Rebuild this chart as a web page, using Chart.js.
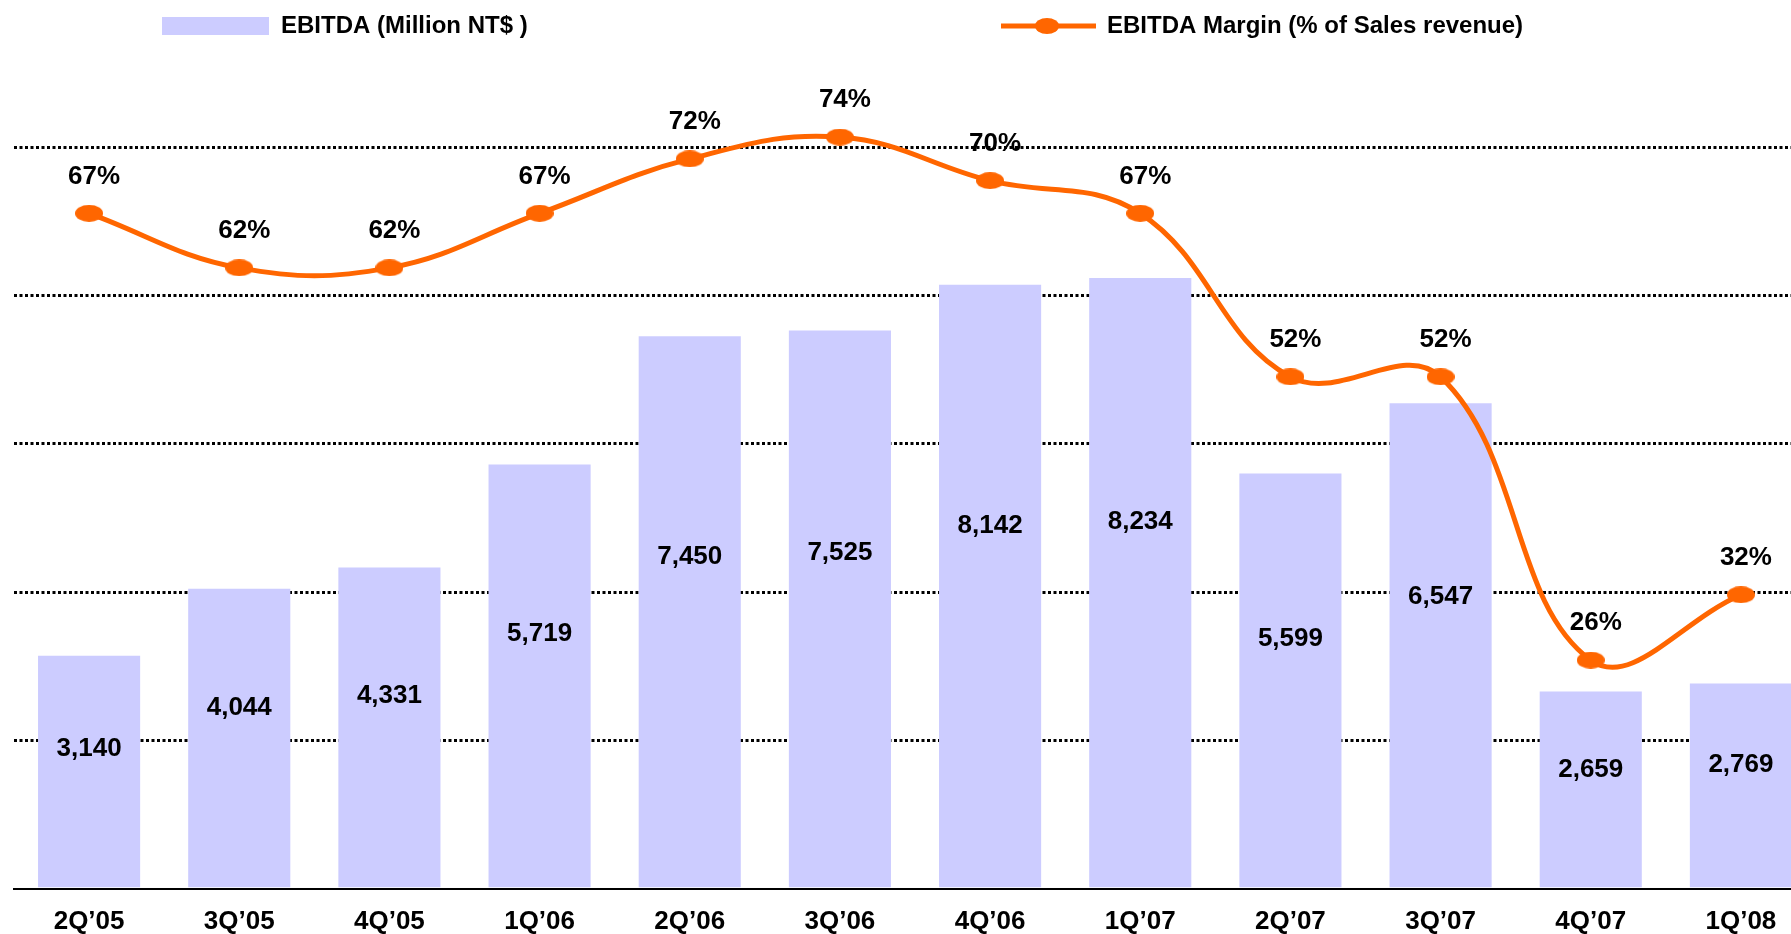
<!DOCTYPE html>
<html>
<head>
<meta charset="utf-8">
<script src="https://cdn.jsdelivr.net/npm/chart.js@4.4.1/dist/chart.umd.min.js"></script>
<style>
  html, body { margin: 0; padding: 0; background: #fff; overflow: hidden; }
  /* the last bar runs off the right edge in the original, so the canvas is a bit bigger than the window */
  #wrap { position: relative; width: 1830px; height: 954px; }
</style>
</head>
<body>
<div id="wrap"><canvas id="ebitdaChart"></canvas></div>
<script>
// ---- data ----
const quarters = ["2Q\u201905", "3Q\u201905", "4Q\u201905", "1Q\u201906", "2Q\u201906", "3Q\u201906",
                  "4Q\u201906", "1Q\u201907", "2Q\u201907", "3Q\u201907", "4Q\u201907", "1Q\u201908"];
const ebitda = [3140, 4044, 4331, 5719, 7450, 7525, 8142, 8234, 5599, 6547, 2659, 2769];
const margin = [67, 62, 62, 67, 72, 74, 70, 67, 52, 52, 26, 32];
const seriesNames = ["EBITDA (Million NT$ )", "EBITDA Margin (% of Sales revenue)"];
const ebitdaAxis = [0, 10000, 2000];   // min, max, grid step
const marginAxis = [5.02, 73.09];      // min, max (hidden axis)

const BAR_COLOR = "#CCCCFF";
const LINE_COLOR = "#FF6600";
const FONT = "'Liberation Sans', Arial, sans-serif";

// orange oval used as point marker
function ovalMarker(w, h) {
    const c = document.createElement("canvas");
    c.width = w; c.height = h;
    const g = c.getContext("2d");
    g.fillStyle = LINE_COLOR;
    g.beginPath();
    g.ellipse(w / 2, h / 2, w / 2, h / 2, 0, 0, Math.PI * 2);
    g.fill();
    return c;
}
const marker = ovalMarker(28, 17);
const legendMarker = ovalMarker(24, 16);

// value labels on bars and points
const valueLabels = {
    id: "valueLabels",
    afterDatasetsDraw(chart) {
        const ctx = chart.ctx;
        ctx.save();
        ctx.fillStyle = "#000";
        ctx.font = "bold 26px " + FONT;
        ctx.textAlign = "center";
        ctx.textBaseline = "middle";

        chart.getDatasetMeta(1).data.forEach((bar, i) => {
            const y = bar.base - (bar.base - bar.y) * 0.6;
            ctx.fillText(ebitda[i].toLocaleString("en-US"), bar.x, y);
        });

        chart.getDatasetMeta(0).data.forEach((pt, i) => {
            ctx.fillText(margin[i] + "%", pt.x + 5, pt.y - 37);
        });
        ctx.restore();
    }
};

// legend across the top
const topLegend = {
    id: "topLegend",
    afterDraw(chart) {
        const ctx = chart.ctx;
        ctx.save();
        ctx.font = "bold 24px " + FONT;
        ctx.textBaseline = "middle";
        ctx.textAlign = "left";

        ctx.fillStyle = BAR_COLOR;
        ctx.fillRect(162, 17, 107, 18);
        ctx.fillStyle = "#000";
        ctx.fillText(seriesNames[0], 281, 26);

        ctx.strokeStyle = LINE_COLOR;
        ctx.lineWidth = 5;
        ctx.beginPath();
        ctx.moveTo(1001, 26);
        ctx.lineTo(1096, 26);
        ctx.stroke();
        ctx.drawImage(legendMarker, 1047 - 12, 26 - 8);
        ctx.fillText(seriesNames[1], 1107, 26);
        ctx.restore();
    }
};

new Chart(document.getElementById("ebitdaChart"), {
    data: {
        labels: quarters,
        datasets: [
            {
                type: "line",
                label: seriesNames[1],
                data: margin,
                yAxisID: "y1",
                borderColor: LINE_COLOR,
                borderWidth: 5,
                tension: 0.4,
                pointStyle: marker,
                pointRadius: 9,
                clip: false,
                order: 1
            },
            {
                type: "bar",
                label: seriesNames[0],
                data: ebitda,
                yAxisID: "y",
                backgroundColor: BAR_COLOR,
                categoryPercentage: 1,
                barPercentage: 0.68,
                order: 2
            }
        ]
    },
    options: {
        responsive: true,
        maintainAspectRatio: false,
        animation: false,
        layout: { padding: { left: 10, right: 10, top: 147, bottom: 0 } },
        plugins: {
            legend: { display: false },
            tooltip: { enabled: false }
        },
        scales: {
            x: {
                offset: true,
                grid: { display: false, drawTicks: false },
                border: { display: true, color: "#000", width: 2 },
                ticks: {
                    color: "#000",
                    padding: 17,
                    font: { family: FONT, size: 26, weight: "bold" }
                }
            },
            y: {
                min: ebitdaAxis[0],
                max: ebitdaAxis[1],
                ticks: { display: false, stepSize: ebitdaAxis[2] },
                border: { display: false, dash: [3, 2.5] },
                grid: {
                    drawTicks: false,
                    lineWidth: 3,
                    color: ctx => ctx.tick && ctx.tick.value === 0 ? "rgba(0,0,0,0)" : "#000"
                }
            },
            y1: {
                display: false,
                min: marginAxis[0],
                max: marginAxis[1]
            }
        }
    },
    plugins: [valueLabels, topLegend]
});
</script>
</body>
</html>
